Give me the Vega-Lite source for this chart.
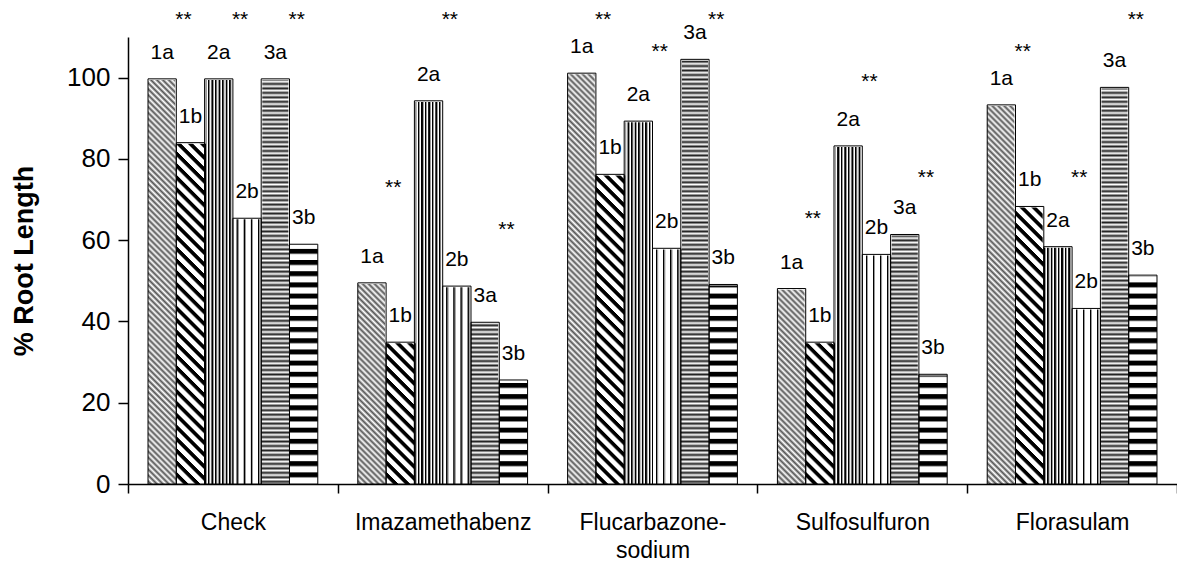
{
"$schema": "https://vega.github.io/schema/vega-lite/v6.json",
"width": 1049, "height": 447,
"autosize": {"type": "none"},
"padding": {"left": 128, "top": 37, "right": 0, "bottom": 81},
"background": "white",
"config": {"view": {"stroke": null}, "font": "Liberation Sans"},
"data": {"values": [
{"herb":"Check","series":"1a","value":99.7},{"herb":"Check","series":"1b","value":84.0},{"herb":"Check","series":"2a","value":99.7},{"herb":"Check","series":"2b","value":65.4},{"herb":"Check","series":"3a","value":99.7},{"herb":"Check","series":"3b","value":59.0},
{"herb":"Imazamethabenz","series":"1a","value":49.5},{"herb":"Imazamethabenz","series":"1b","value":34.9},{"herb":"Imazamethabenz","series":"2a","value":94.3},{"herb":"Imazamethabenz","series":"2b","value":48.7},{"herb":"Imazamethabenz","series":"3a","value":39.8},{"herb":"Imazamethabenz","series":"3b","value":25.6},
{"herb":"Flucarbazone-sodium","series":"1a","value":101.1},{"herb":"Flucarbazone-sodium","series":"1b","value":76.2},{"herb":"Flucarbazone-sodium","series":"2a","value":89.3},{"herb":"Flucarbazone-sodium","series":"2b","value":58.0},{"herb":"Flucarbazone-sodium","series":"3a","value":104.5},{"herb":"Flucarbazone-sodium","series":"3b","value":49.1},
{"herb":"Sulfosulfuron","series":"1a","value":48.1},{"herb":"Sulfosulfuron","series":"1b","value":34.9},{"herb":"Sulfosulfuron","series":"2a","value":83.2},{"herb":"Sulfosulfuron","series":"2b","value":56.5},{"herb":"Sulfosulfuron","series":"3a","value":61.4},{"herb":"Sulfosulfuron","series":"3b","value":27.0},
{"herb":"Florasulam","series":"1a","value":93.3},{"herb":"Florasulam","series":"1b","value":68.3},{"herb":"Florasulam","series":"2a","value":58.4},{"herb":"Florasulam","series":"2b","value":43.2},{"herb":"Florasulam","series":"3a","value":97.6},{"herb":"Florasulam","series":"3b","value":51.4}
]},
"encoding": {
  "x": {"field": "herb", "type": "nominal",
    "scale": {"domain": ["Check","Imazamethabenz","Flucarbazone-sodium","Sulfosulfuron","Florasulam"], "paddingInner": 0, "paddingOuter": 0},
    "axis": {"title": null, "tickBand": "extent", "grid": false, "domainColor": "black", "domainWidth": 1.5, "tickColor": "black", "tickWidth": 1.5, "tickSize": 9,
      "labelFont": "Liberation Sans", "labelFontSize": 23, "labelColor": "black", "labelPadding": 18, "labelAngle": 0, "labelLineHeight": 28,
      "labelExpr": "datum.label == 'Flucarbazone-sodium' ? ['Flucarbazone-', 'sodium'] : datum.label"}},
  "xOffset": {"field": "series", "type": "nominal",
    "scale": {"domain": ["1a","1b","2a","2b","3a","3b"], "paddingInner": 0, "paddingOuter": 0.707}}
},
"layer": [
{"transform": [{"filter": "datum.series == '1a'"}],
 "mark": {"type": "bar", "strokeWidth": 0, "fill": {"gradient": "linear", "x1": 1, "y1": 0, "x2": 0.93295, "y2": 1.05908, "stops": [
{"offset":0,"color":"#fff"},{"offset":0.00625,"color":"#555"},{"offset":0.0125,"color":"#fff"},{"offset":0.01875,"color":"#555"},{"offset":0.025,"color":"#fff"},{"offset":0.03125,"color":"#555"},{"offset":0.0375,"color":"#fff"},{"offset":0.04375,"color":"#555"},{"offset":0.05,"color":"#fff"},{"offset":0.05625,"color":"#555"},{"offset":0.0625,"color":"#fff"},{"offset":0.06875,"color":"#555"},{"offset":0.075,"color":"#fff"},{"offset":0.08125,"color":"#555"},{"offset":0.0875,"color":"#fff"},{"offset":0.09375,"color":"#555"},
{"offset":0.1,"color":"#fff"},{"offset":0.10625,"color":"#555"},{"offset":0.1125,"color":"#fff"},{"offset":0.11875,"color":"#555"},{"offset":0.125,"color":"#fff"},{"offset":0.13125,"color":"#555"},{"offset":0.1375,"color":"#fff"},{"offset":0.14375,"color":"#555"},{"offset":0.15,"color":"#fff"},{"offset":0.15625,"color":"#555"},{"offset":0.1625,"color":"#fff"},{"offset":0.16875,"color":"#555"},{"offset":0.175,"color":"#fff"},{"offset":0.18125,"color":"#555"},{"offset":0.1875,"color":"#fff"},{"offset":0.19375,"color":"#555"},
{"offset":0.2,"color":"#fff"},{"offset":0.20625,"color":"#555"},{"offset":0.2125,"color":"#fff"},{"offset":0.21875,"color":"#555"},{"offset":0.225,"color":"#fff"},{"offset":0.23125,"color":"#555"},{"offset":0.2375,"color":"#fff"},{"offset":0.24375,"color":"#555"},{"offset":0.25,"color":"#fff"},{"offset":0.25625,"color":"#555"},{"offset":0.2625,"color":"#fff"},{"offset":0.26875,"color":"#555"},{"offset":0.275,"color":"#fff"},{"offset":0.28125,"color":"#555"},{"offset":0.2875,"color":"#fff"},{"offset":0.29375,"color":"#555"},
{"offset":0.3,"color":"#fff"},{"offset":0.30625,"color":"#555"},{"offset":0.3125,"color":"#fff"},{"offset":0.31875,"color":"#555"},{"offset":0.325,"color":"#fff"},{"offset":0.33125,"color":"#555"},{"offset":0.3375,"color":"#fff"},{"offset":0.34375,"color":"#555"},{"offset":0.35,"color":"#fff"},{"offset":0.35625,"color":"#555"},{"offset":0.3625,"color":"#fff"},{"offset":0.36875,"color":"#555"},{"offset":0.375,"color":"#fff"},{"offset":0.38125,"color":"#555"},{"offset":0.3875,"color":"#fff"},{"offset":0.39375,"color":"#555"},
{"offset":0.4,"color":"#fff"},{"offset":0.40625,"color":"#555"},{"offset":0.4125,"color":"#fff"},{"offset":0.41875,"color":"#555"},{"offset":0.425,"color":"#fff"},{"offset":0.43125,"color":"#555"},{"offset":0.4375,"color":"#fff"},{"offset":0.44375,"color":"#555"},{"offset":0.45,"color":"#fff"},{"offset":0.45625,"color":"#555"},{"offset":0.4625,"color":"#fff"},{"offset":0.46875,"color":"#555"},{"offset":0.475,"color":"#fff"},{"offset":0.48125,"color":"#555"},{"offset":0.4875,"color":"#fff"},{"offset":0.49375,"color":"#555"},
{"offset":0.5,"color":"#fff"},{"offset":0.50625,"color":"#555"},{"offset":0.5125,"color":"#fff"},{"offset":0.51875,"color":"#555"},{"offset":0.525,"color":"#fff"},{"offset":0.53125,"color":"#555"},{"offset":0.5375,"color":"#fff"},{"offset":0.54375,"color":"#555"},{"offset":0.55,"color":"#fff"},{"offset":0.55625,"color":"#555"},{"offset":0.5625,"color":"#fff"},{"offset":0.56875,"color":"#555"},{"offset":0.575,"color":"#fff"},{"offset":0.58125,"color":"#555"},{"offset":0.5875,"color":"#fff"},{"offset":0.59375,"color":"#555"},
{"offset":0.6,"color":"#fff"},{"offset":0.60625,"color":"#555"},{"offset":0.6125,"color":"#fff"},{"offset":0.61875,"color":"#555"},{"offset":0.625,"color":"#fff"},{"offset":0.63125,"color":"#555"},{"offset":0.6375,"color":"#fff"},{"offset":0.64375,"color":"#555"},{"offset":0.65,"color":"#fff"},{"offset":0.65625,"color":"#555"},{"offset":0.6625,"color":"#fff"},{"offset":0.66875,"color":"#555"},{"offset":0.675,"color":"#fff"},{"offset":0.68125,"color":"#555"},{"offset":0.6875,"color":"#fff"},{"offset":0.69375,"color":"#555"},
{"offset":0.7,"color":"#fff"},{"offset":0.70625,"color":"#555"},{"offset":0.7125,"color":"#fff"},{"offset":0.71875,"color":"#555"},{"offset":0.725,"color":"#fff"},{"offset":0.73125,"color":"#555"},{"offset":0.7375,"color":"#fff"},{"offset":0.74375,"color":"#555"},{"offset":0.75,"color":"#fff"},{"offset":0.75625,"color":"#555"},{"offset":0.7625,"color":"#fff"},{"offset":0.76875,"color":"#555"},{"offset":0.775,"color":"#fff"},{"offset":0.78125,"color":"#555"},{"offset":0.7875,"color":"#fff"},{"offset":0.79375,"color":"#555"},
{"offset":0.8,"color":"#fff"},{"offset":0.80625,"color":"#555"},{"offset":0.8125,"color":"#fff"},{"offset":0.81875,"color":"#555"},{"offset":0.825,"color":"#fff"},{"offset":0.83125,"color":"#555"},{"offset":0.8375,"color":"#fff"},{"offset":0.84375,"color":"#555"},{"offset":0.85,"color":"#fff"},{"offset":0.85625,"color":"#555"},{"offset":0.8625,"color":"#fff"},{"offset":0.86875,"color":"#555"},{"offset":0.875,"color":"#fff"},{"offset":0.88125,"color":"#555"},{"offset":0.8875,"color":"#fff"},{"offset":0.89375,"color":"#555"},
{"offset":0.9,"color":"#fff"},{"offset":0.90625,"color":"#555"},{"offset":0.9125,"color":"#fff"},{"offset":0.91875,"color":"#555"},{"offset":0.925,"color":"#fff"},{"offset":0.93125,"color":"#555"},{"offset":0.9375,"color":"#fff"},{"offset":0.94375,"color":"#555"},{"offset":0.95,"color":"#fff"},{"offset":0.95625,"color":"#555"},{"offset":0.9625,"color":"#fff"},{"offset":0.96875,"color":"#555"},{"offset":0.975,"color":"#fff"},{"offset":0.98125,"color":"#555"},{"offset":0.9875,"color":"#fff"},{"offset":0.99375,"color":"#555"},{"offset":1,"color":"#fff"}
 ]}},
 "encoding": {"y": {"datum": 110, "type": "quantitative", "scale": {"domain": [0, 110], "nice": false},
   "axis": {"title": "% Root Length", "values": [0,20,40,60,80,100], "grid": false, "domainColor": "black", "domainWidth": 1.5, "tickColor": "black", "tickWidth": 1.5, "tickSize": 10,
     "labelFont": "Liberation Sans", "labelFontSize": 26, "labelColor": "black", "labelPadding": 8,
     "titleFont": "Liberation Sans", "titleFontSize": 27, "titleFontWeight": "bold", "titleColor": "black", "titlePadding": 28}},
   "y2": {"datum": 0}}},
{"transform": [{"filter": "datum.series == '1b'"}],
 "mark": {"type": "bar", "strokeWidth": 0, "fill": {"gradient": "linear", "x1": 1, "y1": 0, "x2": 0.93295, "y2": 1.05908, "stops": [
{"offset":0,"color":"#000"},{"offset":0.008,"color":"#000"},{"offset":0.012,"color":"#fff"},{"offset":0.023,"color":"#fff"},{"offset":0.025,"color":"#000"},{"offset":0.033,"color":"#000"},{"offset":0.037,"color":"#fff"},{"offset":0.048,"color":"#fff"},{"offset":0.05,"color":"#000"},{"offset":0.058,"color":"#000"},{"offset":0.062,"color":"#fff"},{"offset":0.073,"color":"#fff"},{"offset":0.075,"color":"#000"},{"offset":0.083,"color":"#000"},{"offset":0.087,"color":"#fff"},{"offset":0.098,"color":"#fff"},
{"offset":0.1,"color":"#000"},{"offset":0.108,"color":"#000"},{"offset":0.112,"color":"#fff"},{"offset":0.123,"color":"#fff"},{"offset":0.125,"color":"#000"},{"offset":0.133,"color":"#000"},{"offset":0.137,"color":"#fff"},{"offset":0.148,"color":"#fff"},{"offset":0.15,"color":"#000"},{"offset":0.158,"color":"#000"},{"offset":0.162,"color":"#fff"},{"offset":0.173,"color":"#fff"},{"offset":0.175,"color":"#000"},{"offset":0.183,"color":"#000"},{"offset":0.187,"color":"#fff"},{"offset":0.198,"color":"#fff"},
{"offset":0.2,"color":"#000"},{"offset":0.208,"color":"#000"},{"offset":0.212,"color":"#fff"},{"offset":0.223,"color":"#fff"},{"offset":0.225,"color":"#000"},{"offset":0.233,"color":"#000"},{"offset":0.237,"color":"#fff"},{"offset":0.248,"color":"#fff"},{"offset":0.25,"color":"#000"},{"offset":0.258,"color":"#000"},{"offset":0.262,"color":"#fff"},{"offset":0.273,"color":"#fff"},{"offset":0.275,"color":"#000"},{"offset":0.283,"color":"#000"},{"offset":0.287,"color":"#fff"},{"offset":0.298,"color":"#fff"},
{"offset":0.3,"color":"#000"},{"offset":0.308,"color":"#000"},{"offset":0.312,"color":"#fff"},{"offset":0.323,"color":"#fff"},{"offset":0.325,"color":"#000"},{"offset":0.333,"color":"#000"},{"offset":0.337,"color":"#fff"},{"offset":0.348,"color":"#fff"},{"offset":0.35,"color":"#000"},{"offset":0.358,"color":"#000"},{"offset":0.362,"color":"#fff"},{"offset":0.373,"color":"#fff"},{"offset":0.375,"color":"#000"},{"offset":0.383,"color":"#000"},{"offset":0.387,"color":"#fff"},{"offset":0.398,"color":"#fff"},
{"offset":0.4,"color":"#000"},{"offset":0.408,"color":"#000"},{"offset":0.412,"color":"#fff"},{"offset":0.423,"color":"#fff"},{"offset":0.425,"color":"#000"},{"offset":0.433,"color":"#000"},{"offset":0.437,"color":"#fff"},{"offset":0.448,"color":"#fff"},{"offset":0.45,"color":"#000"},{"offset":0.458,"color":"#000"},{"offset":0.462,"color":"#fff"},{"offset":0.473,"color":"#fff"},{"offset":0.475,"color":"#000"},{"offset":0.483,"color":"#000"},{"offset":0.487,"color":"#fff"},{"offset":0.498,"color":"#fff"},
{"offset":0.5,"color":"#000"},{"offset":0.508,"color":"#000"},{"offset":0.512,"color":"#fff"},{"offset":0.523,"color":"#fff"},{"offset":0.525,"color":"#000"},{"offset":0.533,"color":"#000"},{"offset":0.537,"color":"#fff"},{"offset":0.548,"color":"#fff"},{"offset":0.55,"color":"#000"},{"offset":0.558,"color":"#000"},{"offset":0.562,"color":"#fff"},{"offset":0.573,"color":"#fff"},{"offset":0.575,"color":"#000"},{"offset":0.583,"color":"#000"},{"offset":0.587,"color":"#fff"},{"offset":0.598,"color":"#fff"},
{"offset":0.6,"color":"#000"},{"offset":0.608,"color":"#000"},{"offset":0.612,"color":"#fff"},{"offset":0.623,"color":"#fff"},{"offset":0.625,"color":"#000"},{"offset":0.633,"color":"#000"},{"offset":0.637,"color":"#fff"},{"offset":0.648,"color":"#fff"},{"offset":0.65,"color":"#000"},{"offset":0.658,"color":"#000"},{"offset":0.662,"color":"#fff"},{"offset":0.673,"color":"#fff"},{"offset":0.675,"color":"#000"},{"offset":0.683,"color":"#000"},{"offset":0.687,"color":"#fff"},{"offset":0.698,"color":"#fff"},
{"offset":0.7,"color":"#000"},{"offset":0.708,"color":"#000"},{"offset":0.712,"color":"#fff"},{"offset":0.723,"color":"#fff"},{"offset":0.725,"color":"#000"},{"offset":0.733,"color":"#000"},{"offset":0.737,"color":"#fff"},{"offset":0.748,"color":"#fff"},{"offset":0.75,"color":"#000"},{"offset":0.758,"color":"#000"},{"offset":0.762,"color":"#fff"},{"offset":0.773,"color":"#fff"},{"offset":0.775,"color":"#000"},{"offset":0.783,"color":"#000"},{"offset":0.787,"color":"#fff"},{"offset":0.798,"color":"#fff"},
{"offset":0.8,"color":"#000"},{"offset":0.808,"color":"#000"},{"offset":0.812,"color":"#fff"},{"offset":0.823,"color":"#fff"},{"offset":0.825,"color":"#000"},{"offset":0.833,"color":"#000"},{"offset":0.837,"color":"#fff"},{"offset":0.848,"color":"#fff"},{"offset":0.85,"color":"#000"},{"offset":0.858,"color":"#000"},{"offset":0.862,"color":"#fff"},{"offset":0.873,"color":"#fff"},{"offset":0.875,"color":"#000"},{"offset":0.883,"color":"#000"},{"offset":0.887,"color":"#fff"},{"offset":0.898,"color":"#fff"},
{"offset":0.9,"color":"#000"},{"offset":0.908,"color":"#000"},{"offset":0.912,"color":"#fff"},{"offset":0.923,"color":"#fff"},{"offset":0.925,"color":"#000"},{"offset":0.933,"color":"#000"},{"offset":0.937,"color":"#fff"},{"offset":0.948,"color":"#fff"},{"offset":0.95,"color":"#000"},{"offset":0.958,"color":"#000"},{"offset":0.962,"color":"#fff"},{"offset":0.973,"color":"#fff"},{"offset":0.975,"color":"#000"},{"offset":0.983,"color":"#000"},{"offset":0.987,"color":"#fff"},{"offset":1,"color":"#fff"}
 ]}},
 "encoding": {"y": {"datum": 110, "type": "quantitative"}, "y2": {"datum": 0}}},
{"transform": [{"filter": "datum.series == '2a'"}],
 "mark": {"type": "bar", "strokeWidth": 0, "fill": {"gradient": "linear", "x1": 0, "y1": 0, "x2": 1, "y2": 0, "stops": [
{"offset":0,"color":"#000"},{"offset":0.035,"color":"#000"},{"offset":0.05,"color":"#999"},{"offset":0.07,"color":"#999"},{"offset":0.085,"color":"#fff"},{"offset":0.11,"color":"#fff"},
{"offset":0.125,"color":"#000"},{"offset":0.16,"color":"#000"},{"offset":0.175,"color":"#999"},{"offset":0.195,"color":"#999"},{"offset":0.21,"color":"#fff"},{"offset":0.235,"color":"#fff"},
{"offset":0.25,"color":"#000"},{"offset":0.285,"color":"#000"},{"offset":0.3,"color":"#999"},{"offset":0.32,"color":"#999"},{"offset":0.335,"color":"#fff"},{"offset":0.36,"color":"#fff"},
{"offset":0.375,"color":"#000"},{"offset":0.41,"color":"#000"},{"offset":0.425,"color":"#999"},{"offset":0.445,"color":"#999"},{"offset":0.46,"color":"#fff"},{"offset":0.485,"color":"#fff"},
{"offset":0.5,"color":"#000"},{"offset":0.535,"color":"#000"},{"offset":0.55,"color":"#999"},{"offset":0.57,"color":"#999"},{"offset":0.585,"color":"#fff"},{"offset":0.61,"color":"#fff"},
{"offset":0.625,"color":"#000"},{"offset":0.66,"color":"#000"},{"offset":0.675,"color":"#999"},{"offset":0.695,"color":"#999"},{"offset":0.71,"color":"#fff"},{"offset":0.735,"color":"#fff"},
{"offset":0.75,"color":"#000"},{"offset":0.785,"color":"#000"},{"offset":0.8,"color":"#999"},{"offset":0.82,"color":"#999"},{"offset":0.835,"color":"#fff"},{"offset":0.86,"color":"#fff"},
{"offset":0.875,"color":"#000"},{"offset":0.91,"color":"#000"},{"offset":0.925,"color":"#999"},{"offset":0.945,"color":"#999"},{"offset":0.96,"color":"#fff"},{"offset":1,"color":"#fff"}
 ]}},
 "encoding": {"y": {"datum": 110, "type": "quantitative"}, "y2": {"datum": 0}}},
{"transform": [{"filter": "datum.series == '2b'"}],
 "mark": {"type": "bar", "strokeWidth": 0, "fill": {"gradient": "linear", "x1": 0, "y1": 0, "x2": 1, "y2": 0, "stops": [
{"offset":0,"color":"#fff"},{"offset":0.12,"color":"#fff"},{"offset":0.135,"color":"#000"},{"offset":0.16,"color":"#000"},{"offset":0.175,"color":"#999"},{"offset":0.2,"color":"#999"},{"offset":0.215,"color":"#fff"},
{"offset":0.25,"color":"#fff"},{"offset":0.37,"color":"#fff"},{"offset":0.385,"color":"#000"},{"offset":0.41,"color":"#000"},{"offset":0.425,"color":"#999"},{"offset":0.45,"color":"#999"},{"offset":0.465,"color":"#fff"},
{"offset":0.5,"color":"#fff"},{"offset":0.62,"color":"#fff"},{"offset":0.635,"color":"#000"},{"offset":0.66,"color":"#000"},{"offset":0.675,"color":"#999"},{"offset":0.7,"color":"#999"},{"offset":0.715,"color":"#fff"},
{"offset":0.75,"color":"#fff"},{"offset":0.87,"color":"#fff"},{"offset":0.885,"color":"#000"},{"offset":0.91,"color":"#000"},{"offset":0.925,"color":"#999"},{"offset":0.95,"color":"#999"},{"offset":0.965,"color":"#fff"},{"offset":1,"color":"#fff"}
 ]}},
 "encoding": {"y": {"datum": 110, "type": "quantitative"}, "y2": {"datum": 0}}},
{"transform": [{"filter": "datum.series == '3a'"}],
 "mark": {"type": "bar", "strokeWidth": 0, "fill": {"gradient": "linear", "x1": 0, "y1": 0, "x2": 0, "y2": 1, "stops": [
{"offset":0,"color":"#fff"},{"offset":0.005,"color":"#222"},{"offset":0.01,"color":"#fff"},{"offset":0.015,"color":"#222"},{"offset":0.02,"color":"#fff"},{"offset":0.025,"color":"#222"},{"offset":0.03,"color":"#fff"},{"offset":0.035,"color":"#222"},{"offset":0.04,"color":"#fff"},{"offset":0.045,"color":"#222"},{"offset":0.05,"color":"#fff"},{"offset":0.055,"color":"#222"},{"offset":0.06,"color":"#fff"},{"offset":0.065,"color":"#222"},{"offset":0.07,"color":"#fff"},{"offset":0.075,"color":"#222"},{"offset":0.08,"color":"#fff"},{"offset":0.085,"color":"#222"},{"offset":0.09,"color":"#fff"},{"offset":0.095,"color":"#222"},
{"offset":0.1,"color":"#fff"},{"offset":0.105,"color":"#222"},{"offset":0.11,"color":"#fff"},{"offset":0.115,"color":"#222"},{"offset":0.12,"color":"#fff"},{"offset":0.125,"color":"#222"},{"offset":0.13,"color":"#fff"},{"offset":0.135,"color":"#222"},{"offset":0.14,"color":"#fff"},{"offset":0.145,"color":"#222"},{"offset":0.15,"color":"#fff"},{"offset":0.155,"color":"#222"},{"offset":0.16,"color":"#fff"},{"offset":0.165,"color":"#222"},{"offset":0.17,"color":"#fff"},{"offset":0.175,"color":"#222"},{"offset":0.18,"color":"#fff"},{"offset":0.185,"color":"#222"},{"offset":0.19,"color":"#fff"},{"offset":0.195,"color":"#222"},
{"offset":0.2,"color":"#fff"},{"offset":0.205,"color":"#222"},{"offset":0.21,"color":"#fff"},{"offset":0.215,"color":"#222"},{"offset":0.22,"color":"#fff"},{"offset":0.225,"color":"#222"},{"offset":0.23,"color":"#fff"},{"offset":0.235,"color":"#222"},{"offset":0.24,"color":"#fff"},{"offset":0.245,"color":"#222"},{"offset":0.25,"color":"#fff"},{"offset":0.255,"color":"#222"},{"offset":0.26,"color":"#fff"},{"offset":0.265,"color":"#222"},{"offset":0.27,"color":"#fff"},{"offset":0.275,"color":"#222"},{"offset":0.28,"color":"#fff"},{"offset":0.285,"color":"#222"},{"offset":0.29,"color":"#fff"},{"offset":0.295,"color":"#222"},
{"offset":0.3,"color":"#fff"},{"offset":0.305,"color":"#222"},{"offset":0.31,"color":"#fff"},{"offset":0.315,"color":"#222"},{"offset":0.32,"color":"#fff"},{"offset":0.325,"color":"#222"},{"offset":0.33,"color":"#fff"},{"offset":0.335,"color":"#222"},{"offset":0.34,"color":"#fff"},{"offset":0.345,"color":"#222"},{"offset":0.35,"color":"#fff"},{"offset":0.355,"color":"#222"},{"offset":0.36,"color":"#fff"},{"offset":0.365,"color":"#222"},{"offset":0.37,"color":"#fff"},{"offset":0.375,"color":"#222"},{"offset":0.38,"color":"#fff"},{"offset":0.385,"color":"#222"},{"offset":0.39,"color":"#fff"},{"offset":0.395,"color":"#222"},
{"offset":0.4,"color":"#fff"},{"offset":0.405,"color":"#222"},{"offset":0.41,"color":"#fff"},{"offset":0.415,"color":"#222"},{"offset":0.42,"color":"#fff"},{"offset":0.425,"color":"#222"},{"offset":0.43,"color":"#fff"},{"offset":0.435,"color":"#222"},{"offset":0.44,"color":"#fff"},{"offset":0.445,"color":"#222"},{"offset":0.45,"color":"#fff"},{"offset":0.455,"color":"#222"},{"offset":0.46,"color":"#fff"},{"offset":0.465,"color":"#222"},{"offset":0.47,"color":"#fff"},{"offset":0.475,"color":"#222"},{"offset":0.48,"color":"#fff"},{"offset":0.485,"color":"#222"},{"offset":0.49,"color":"#fff"},{"offset":0.495,"color":"#222"},
{"offset":0.5,"color":"#fff"},{"offset":0.505,"color":"#222"},{"offset":0.51,"color":"#fff"},{"offset":0.515,"color":"#222"},{"offset":0.52,"color":"#fff"},{"offset":0.525,"color":"#222"},{"offset":0.53,"color":"#fff"},{"offset":0.535,"color":"#222"},{"offset":0.54,"color":"#fff"},{"offset":0.545,"color":"#222"},{"offset":0.55,"color":"#fff"},{"offset":0.555,"color":"#222"},{"offset":0.56,"color":"#fff"},{"offset":0.565,"color":"#222"},{"offset":0.57,"color":"#fff"},{"offset":0.575,"color":"#222"},{"offset":0.58,"color":"#fff"},{"offset":0.585,"color":"#222"},{"offset":0.59,"color":"#fff"},{"offset":0.595,"color":"#222"},
{"offset":0.6,"color":"#fff"},{"offset":0.605,"color":"#222"},{"offset":0.61,"color":"#fff"},{"offset":0.615,"color":"#222"},{"offset":0.62,"color":"#fff"},{"offset":0.625,"color":"#222"},{"offset":0.63,"color":"#fff"},{"offset":0.635,"color":"#222"},{"offset":0.64,"color":"#fff"},{"offset":0.645,"color":"#222"},{"offset":0.65,"color":"#fff"},{"offset":0.655,"color":"#222"},{"offset":0.66,"color":"#fff"},{"offset":0.665,"color":"#222"},{"offset":0.67,"color":"#fff"},{"offset":0.675,"color":"#222"},{"offset":0.68,"color":"#fff"},{"offset":0.685,"color":"#222"},{"offset":0.69,"color":"#fff"},{"offset":0.695,"color":"#222"},
{"offset":0.7,"color":"#fff"},{"offset":0.705,"color":"#222"},{"offset":0.71,"color":"#fff"},{"offset":0.715,"color":"#222"},{"offset":0.72,"color":"#fff"},{"offset":0.725,"color":"#222"},{"offset":0.73,"color":"#fff"},{"offset":0.735,"color":"#222"},{"offset":0.74,"color":"#fff"},{"offset":0.745,"color":"#222"},{"offset":0.75,"color":"#fff"},{"offset":0.755,"color":"#222"},{"offset":0.76,"color":"#fff"},{"offset":0.765,"color":"#222"},{"offset":0.77,"color":"#fff"},{"offset":0.775,"color":"#222"},{"offset":0.78,"color":"#fff"},{"offset":0.785,"color":"#222"},{"offset":0.79,"color":"#fff"},{"offset":0.795,"color":"#222"},
{"offset":0.8,"color":"#fff"},{"offset":0.805,"color":"#222"},{"offset":0.81,"color":"#fff"},{"offset":0.815,"color":"#222"},{"offset":0.82,"color":"#fff"},{"offset":0.825,"color":"#222"},{"offset":0.83,"color":"#fff"},{"offset":0.835,"color":"#222"},{"offset":0.84,"color":"#fff"},{"offset":0.845,"color":"#222"},{"offset":0.85,"color":"#fff"},{"offset":0.855,"color":"#222"},{"offset":0.86,"color":"#fff"},{"offset":0.865,"color":"#222"},{"offset":0.87,"color":"#fff"},{"offset":0.875,"color":"#222"},{"offset":0.88,"color":"#fff"},{"offset":0.885,"color":"#222"},{"offset":0.89,"color":"#fff"},{"offset":0.895,"color":"#222"},
{"offset":0.9,"color":"#fff"},{"offset":0.905,"color":"#222"},{"offset":0.91,"color":"#fff"},{"offset":0.915,"color":"#222"},{"offset":0.92,"color":"#fff"},{"offset":0.925,"color":"#222"},{"offset":0.93,"color":"#fff"},{"offset":0.935,"color":"#222"},{"offset":0.94,"color":"#fff"},{"offset":0.945,"color":"#222"},{"offset":0.95,"color":"#fff"},{"offset":0.955,"color":"#222"},{"offset":0.96,"color":"#fff"},{"offset":0.965,"color":"#222"},{"offset":0.97,"color":"#fff"},{"offset":0.975,"color":"#222"},{"offset":0.98,"color":"#fff"},{"offset":0.985,"color":"#222"},{"offset":0.99,"color":"#fff"},{"offset":0.995,"color":"#222"},{"offset":1,"color":"#fff"}
 ]}},
 "encoding": {"y": {"datum": 110, "type": "quantitative"}, "y2": {"datum": 0}}},
{"transform": [{"filter": "datum.series == '3b'"}],
 "mark": {"type": "bar", "strokeWidth": 0, "fill": {"gradient": "linear", "x1": 0, "y1": 0, "x2": 0, "y2": 1, "stops": [
{"offset":0,"color":"#000"},{"offset":0.008,"color":"#000"},{"offset":0.012,"color":"#fff"},{"offset":0.023,"color":"#fff"},{"offset":0.025,"color":"#000"},{"offset":0.033,"color":"#000"},{"offset":0.037,"color":"#fff"},{"offset":0.048,"color":"#fff"},{"offset":0.05,"color":"#000"},{"offset":0.058,"color":"#000"},{"offset":0.062,"color":"#fff"},{"offset":0.073,"color":"#fff"},{"offset":0.075,"color":"#000"},{"offset":0.083,"color":"#000"},{"offset":0.087,"color":"#fff"},{"offset":0.098,"color":"#fff"},
{"offset":0.1,"color":"#000"},{"offset":0.108,"color":"#000"},{"offset":0.112,"color":"#fff"},{"offset":0.123,"color":"#fff"},{"offset":0.125,"color":"#000"},{"offset":0.133,"color":"#000"},{"offset":0.137,"color":"#fff"},{"offset":0.148,"color":"#fff"},{"offset":0.15,"color":"#000"},{"offset":0.158,"color":"#000"},{"offset":0.162,"color":"#fff"},{"offset":0.173,"color":"#fff"},{"offset":0.175,"color":"#000"},{"offset":0.183,"color":"#000"},{"offset":0.187,"color":"#fff"},{"offset":0.198,"color":"#fff"},
{"offset":0.2,"color":"#000"},{"offset":0.208,"color":"#000"},{"offset":0.212,"color":"#fff"},{"offset":0.223,"color":"#fff"},{"offset":0.225,"color":"#000"},{"offset":0.233,"color":"#000"},{"offset":0.237,"color":"#fff"},{"offset":0.248,"color":"#fff"},{"offset":0.25,"color":"#000"},{"offset":0.258,"color":"#000"},{"offset":0.262,"color":"#fff"},{"offset":0.273,"color":"#fff"},{"offset":0.275,"color":"#000"},{"offset":0.283,"color":"#000"},{"offset":0.287,"color":"#fff"},{"offset":0.298,"color":"#fff"},
{"offset":0.3,"color":"#000"},{"offset":0.308,"color":"#000"},{"offset":0.312,"color":"#fff"},{"offset":0.323,"color":"#fff"},{"offset":0.325,"color":"#000"},{"offset":0.333,"color":"#000"},{"offset":0.337,"color":"#fff"},{"offset":0.348,"color":"#fff"},{"offset":0.35,"color":"#000"},{"offset":0.358,"color":"#000"},{"offset":0.362,"color":"#fff"},{"offset":0.373,"color":"#fff"},{"offset":0.375,"color":"#000"},{"offset":0.383,"color":"#000"},{"offset":0.387,"color":"#fff"},{"offset":0.398,"color":"#fff"},
{"offset":0.4,"color":"#000"},{"offset":0.408,"color":"#000"},{"offset":0.412,"color":"#fff"},{"offset":0.423,"color":"#fff"},{"offset":0.425,"color":"#000"},{"offset":0.433,"color":"#000"},{"offset":0.437,"color":"#fff"},{"offset":0.448,"color":"#fff"},{"offset":0.45,"color":"#000"},{"offset":0.458,"color":"#000"},{"offset":0.462,"color":"#fff"},{"offset":0.473,"color":"#fff"},{"offset":0.475,"color":"#000"},{"offset":0.483,"color":"#000"},{"offset":0.487,"color":"#fff"},{"offset":0.498,"color":"#fff"},
{"offset":0.5,"color":"#000"},{"offset":0.508,"color":"#000"},{"offset":0.512,"color":"#fff"},{"offset":0.523,"color":"#fff"},{"offset":0.525,"color":"#000"},{"offset":0.533,"color":"#000"},{"offset":0.537,"color":"#fff"},{"offset":0.548,"color":"#fff"},{"offset":0.55,"color":"#000"},{"offset":0.558,"color":"#000"},{"offset":0.562,"color":"#fff"},{"offset":0.573,"color":"#fff"},{"offset":0.575,"color":"#000"},{"offset":0.583,"color":"#000"},{"offset":0.587,"color":"#fff"},{"offset":0.598,"color":"#fff"},
{"offset":0.6,"color":"#000"},{"offset":0.608,"color":"#000"},{"offset":0.612,"color":"#fff"},{"offset":0.623,"color":"#fff"},{"offset":0.625,"color":"#000"},{"offset":0.633,"color":"#000"},{"offset":0.637,"color":"#fff"},{"offset":0.648,"color":"#fff"},{"offset":0.65,"color":"#000"},{"offset":0.658,"color":"#000"},{"offset":0.662,"color":"#fff"},{"offset":0.673,"color":"#fff"},{"offset":0.675,"color":"#000"},{"offset":0.683,"color":"#000"},{"offset":0.687,"color":"#fff"},{"offset":0.698,"color":"#fff"},
{"offset":0.7,"color":"#000"},{"offset":0.708,"color":"#000"},{"offset":0.712,"color":"#fff"},{"offset":0.723,"color":"#fff"},{"offset":0.725,"color":"#000"},{"offset":0.733,"color":"#000"},{"offset":0.737,"color":"#fff"},{"offset":0.748,"color":"#fff"},{"offset":0.75,"color":"#000"},{"offset":0.758,"color":"#000"},{"offset":0.762,"color":"#fff"},{"offset":0.773,"color":"#fff"},{"offset":0.775,"color":"#000"},{"offset":0.783,"color":"#000"},{"offset":0.787,"color":"#fff"},{"offset":0.798,"color":"#fff"},
{"offset":0.8,"color":"#000"},{"offset":0.808,"color":"#000"},{"offset":0.812,"color":"#fff"},{"offset":0.823,"color":"#fff"},{"offset":0.825,"color":"#000"},{"offset":0.833,"color":"#000"},{"offset":0.837,"color":"#fff"},{"offset":0.848,"color":"#fff"},{"offset":0.85,"color":"#000"},{"offset":0.858,"color":"#000"},{"offset":0.862,"color":"#fff"},{"offset":0.873,"color":"#fff"},{"offset":0.875,"color":"#000"},{"offset":0.883,"color":"#000"},{"offset":0.887,"color":"#fff"},{"offset":0.898,"color":"#fff"},
{"offset":0.9,"color":"#000"},{"offset":0.908,"color":"#000"},{"offset":0.912,"color":"#fff"},{"offset":0.923,"color":"#fff"},{"offset":0.925,"color":"#000"},{"offset":0.933,"color":"#000"},{"offset":0.937,"color":"#fff"},{"offset":0.948,"color":"#fff"},{"offset":0.95,"color":"#000"},{"offset":0.958,"color":"#000"},{"offset":0.962,"color":"#fff"},{"offset":0.973,"color":"#fff"},{"offset":0.975,"color":"#000"},{"offset":0.983,"color":"#000"},{"offset":0.987,"color":"#fff"},{"offset":1,"color":"#fff"}
 ]}},
 "encoding": {"y": {"datum": 110, "type": "quantitative"}, "y2": {"datum": 0}}},
{"mark": {"type": "bar", "fill": "white", "stroke": "white", "strokeWidth": 2.2},
 "encoding": {"y": {"field": "value", "type": "quantitative"}, "y2": {"datum": 110}}},
{"mark": {"type": "bar", "fillOpacity": 0, "stroke": "black", "strokeWidth": 1},
 "encoding": {"y": {"field": "value", "type": "quantitative"}}},
{"mark": {"type": "text", "font": "Liberation Sans", "fontSize": 21, "dy": -20, "baseline": "alphabetic", "align": "center", "color": "black"},
 "encoding": {"y": {"field": "value", "type": "quantitative"}, "text": {"field": "series"}}},
{"data": {"values": [
{"herb":"Check","series":"1b","pos":115.7},{"herb":"Check","series":"2b","pos":115.7},{"herb":"Check","series":"3b","pos":115.7},
{"herb":"Imazamethabenz","series":"1b","pos":74.4},{"herb":"Imazamethabenz","series":"2b","pos":115.7},{"herb":"Imazamethabenz","series":"3b","pos":64.0},
{"herb":"Flucarbazone-sodium","series":"1b","pos":115.7},{"herb":"Flucarbazone-sodium","series":"2b","pos":107.9},{"herb":"Flucarbazone-sodium","series":"3b","pos":115.7},
{"herb":"Sulfosulfuron","series":"1b","pos":66.6},{"herb":"Sulfosulfuron","series":"2b","pos":100.4},{"herb":"Sulfosulfuron","series":"3b","pos":76.9},
{"herb":"Florasulam","series":"1b","pos":107.8},{"herb":"Florasulam","series":"2b","pos":76.9},{"herb":"Florasulam","series":"3b","pos":115.7}
 ]},
 "mark": {"type": "text", "text": "**", "font": "Liberation Sans", "fontSize": 21, "dx": -7, "dy": 12, "baseline": "alphabetic", "align": "center", "color": "black"},
 "encoding": {"y": {"field": "pos", "type": "quantitative"}}}
]
}
